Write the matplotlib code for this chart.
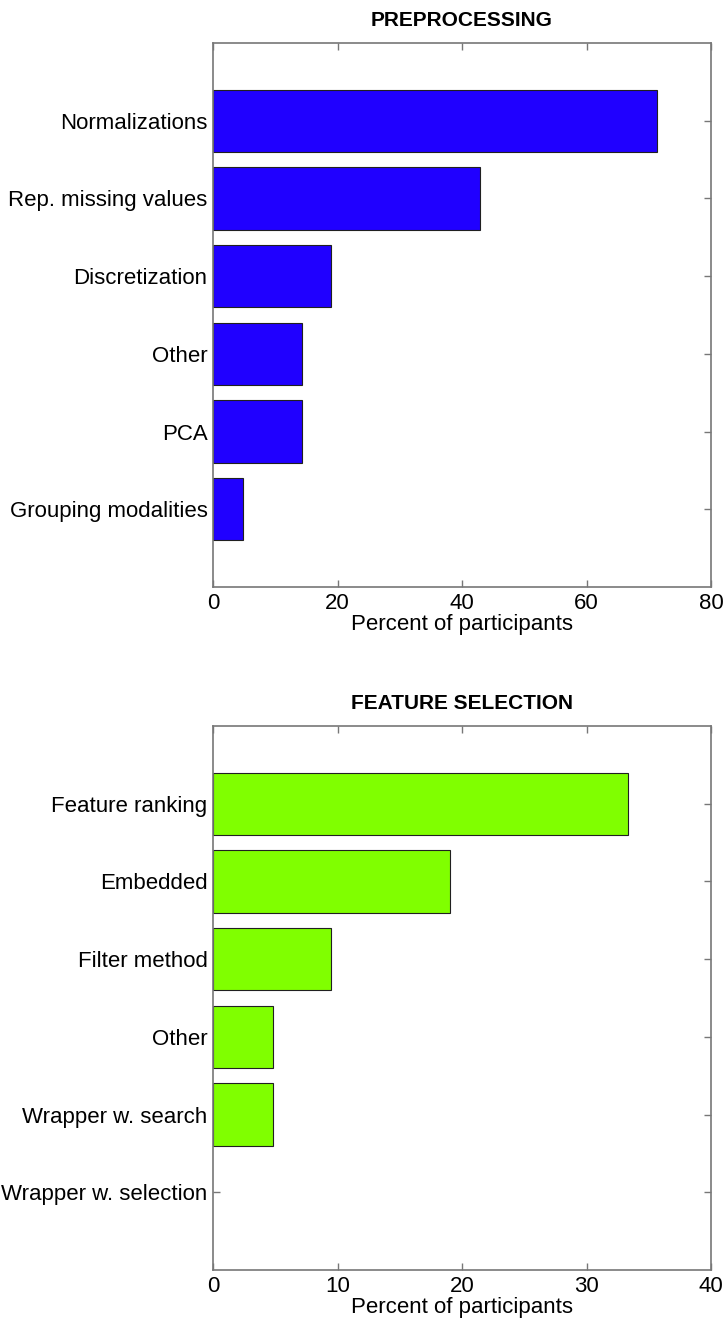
import matplotlib
matplotlib.use("Agg")
import matplotlib.pyplot as plt
import numpy as np

plt.rcParams['font.family'] = ['Liberation Sans', 'DejaVu Sans']

prep_labels = ['Normalizations', 'Rep. missing values', 'Discretization',
               'Other', 'PCA', 'Grouping modalities']
prep_values = [71.4, 42.9, 19.0, 14.3, 14.3, 4.8]

feat_labels = ['Feature ranking', 'Embedded', 'Filter method',
               'Other', 'Wrapper w. search', 'Wrapper w. selection']
feat_values = [33.3, 19.0, 9.5, 4.8, 4.8, 0.0]

W, H = 728, 1328
fig = plt.figure(figsize=(W / 100, H / 100), dpi=100)

# axes rectangles in pixels: left, top, right, bottom
boxes = [(213, 43, 711, 587), (213, 726, 711, 1270)]
panels = [
    ('PREPROCESSING', prep_labels, prep_values, '#2000ff', 80, [0, 20, 40, 60, 80]),
    ('FEATURE SELECTION', feat_labels, feat_values, '#80ff00', 40, [0, 10, 20, 30, 40]),
]

for (l, t, r, b), (title, labels, values, color, xmax, xt) in zip(boxes, panels):
    ax = fig.add_axes([l / W, 1 - b / H, (r - l) / W, (b - t) / H])
    ax.set_axisbelow(True)
    pos = np.arange(1, len(labels) + 1)
    ax.barh(pos, values, height=0.8, color=color, edgecolor='#202020',
            linewidth=[0.8 if v > 0 else 0 for v in values])
    ax.set_ylim(len(labels) + 1, 0)
    ax.set_xlim(0, xmax)
    ax.set_yticks(pos)
    ax.set_yticklabels(labels, fontsize=16)
    ax.set_xticks(xt)
    ax.tick_params(axis='x', labelsize=16, pad=4)
    ax.tick_params(direction='in', top=True, right=True, length=5,
                   color='#777777', width=1)
    ax.tick_params(axis='y', pad=4)
    for s in ax.spines.values():
        s.set_color('#777777')
        s.set_linewidth(1.2)
    ax.set_xlabel('Percent of participants', fontsize=16, labelpad=0)
    ax.set_title(title, fontsize=15, fontweight='bold', pad=12)

fig.savefig('out.png', dpi=100)
